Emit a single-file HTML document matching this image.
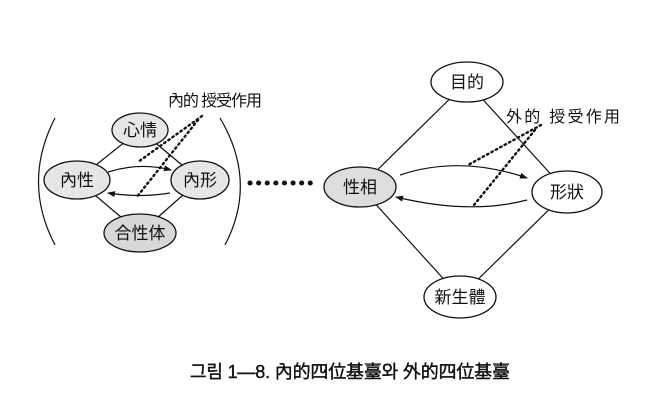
<!DOCTYPE html>
<html><head><meta charset="utf-8"><style>
html,body{margin:0;padding:0;background:#fff;}
svg{display:block}
text{font-family:"Liberation Sans","Noto Sans CJK KR","Noto Serif CJK SC",sans-serif;fill:#111}
</style></head><body>
<svg width="666" height="408" viewBox="0 0 666 408" xmlns="http://www.w3.org/2000/svg">
<defs><marker id="a" markerWidth="8" markerHeight="6" refX="7" refY="3" orient="auto" markerUnits="userSpaceOnUse"><path d="M0,0 L8,3 L0,6 z" fill="#111"/></marker></defs>
<g stroke="#111" stroke-width="1.2" fill="none">
<line x1="140" y1="130" x2="77" y2="180"/><line x1="140" y1="130" x2="200" y2="180"/>
<line x1="77" y1="180" x2="140" y2="233"/><line x1="200" y1="180" x2="140" y2="233"/>
<path d="M55,118 Q22,182 55,245"/><path d="M220,118 Q258,182 225,245"/>
<path d="M108,172 Q140,162 171,170" marker-end="url(#a)"/>
<path d="M170,193 Q140,198 108,193" marker-end="url(#a)"/>
<line x1="467" y1="82" x2="360" y2="187"/><line x1="467" y1="82" x2="567" y2="192"/>
<line x1="360" y1="187" x2="460" y2="297"/><line x1="567" y1="192" x2="460" y2="297"/>
<path d="M400,175 Q460,155 527,178" marker-end="url(#a)"/>
<path d="M527,200 Q470,215 396,197" marker-end="url(#a)"/>
</g>
<g stroke="#111" stroke-width="2.4" stroke-dasharray="1.5 3.5" stroke-linecap="round" fill="none">
<line x1="202" y1="116" x2="138" y2="162"/><line x1="198" y1="120" x2="136" y2="198"/>
<line x1="541" y1="125" x2="468" y2="165"/><line x1="535" y1="130" x2="474" y2="205"/>
<line x1="250" y1="183" x2="316" y2="183" stroke-width="5" stroke-dasharray="0.1 8.5"/>
</g>
<g stroke="#111" stroke-width="1.3">
<ellipse cx="140" cy="130" rx="28" ry="17" fill="#e6e6e6"/>
<ellipse cx="77" cy="180" rx="33" ry="19" fill="#e6e6e6"/>
<ellipse cx="200" cy="180" rx="29" ry="19" fill="#e6e6e6"/>
<ellipse cx="140" cy="233" rx="36" ry="19" fill="#d8d8d8"/>
<ellipse cx="467" cy="82" rx="36" ry="20" fill="#fff"/>
<ellipse cx="360" cy="187" rx="36" ry="20" fill="#ddd"/>
<ellipse cx="567" cy="192" rx="35" ry="21" fill="#fff"/>
<ellipse cx="460" cy="297" rx="36" ry="21" fill="#fff"/>
</g>
<g font-size="17" text-anchor="middle">
<text x="140" y="136">心情</text>
<text x="77" y="186">內性</text>
<text x="200" y="186">內形</text>
<text x="140" y="239">合性体</text>
<text x="467" y="88">目的</text>
<text x="360" y="193">性相</text>
<text x="567" y="198">形狀</text>
<text x="460" y="303">新生體</text>
</g>
<text x="168" y="106" font-size="16" textLength="94">內的 授受作用</text>
<text x="506" y="122" font-size="16" textLength="114">外的 授受作用</text>
<text x="190" y="378" font-size="18" stroke="#111" stroke-width="0.4" textLength="320">그림 1—8. 內的四位基臺와 外的四位基臺</text>
</svg>
</body></html>
